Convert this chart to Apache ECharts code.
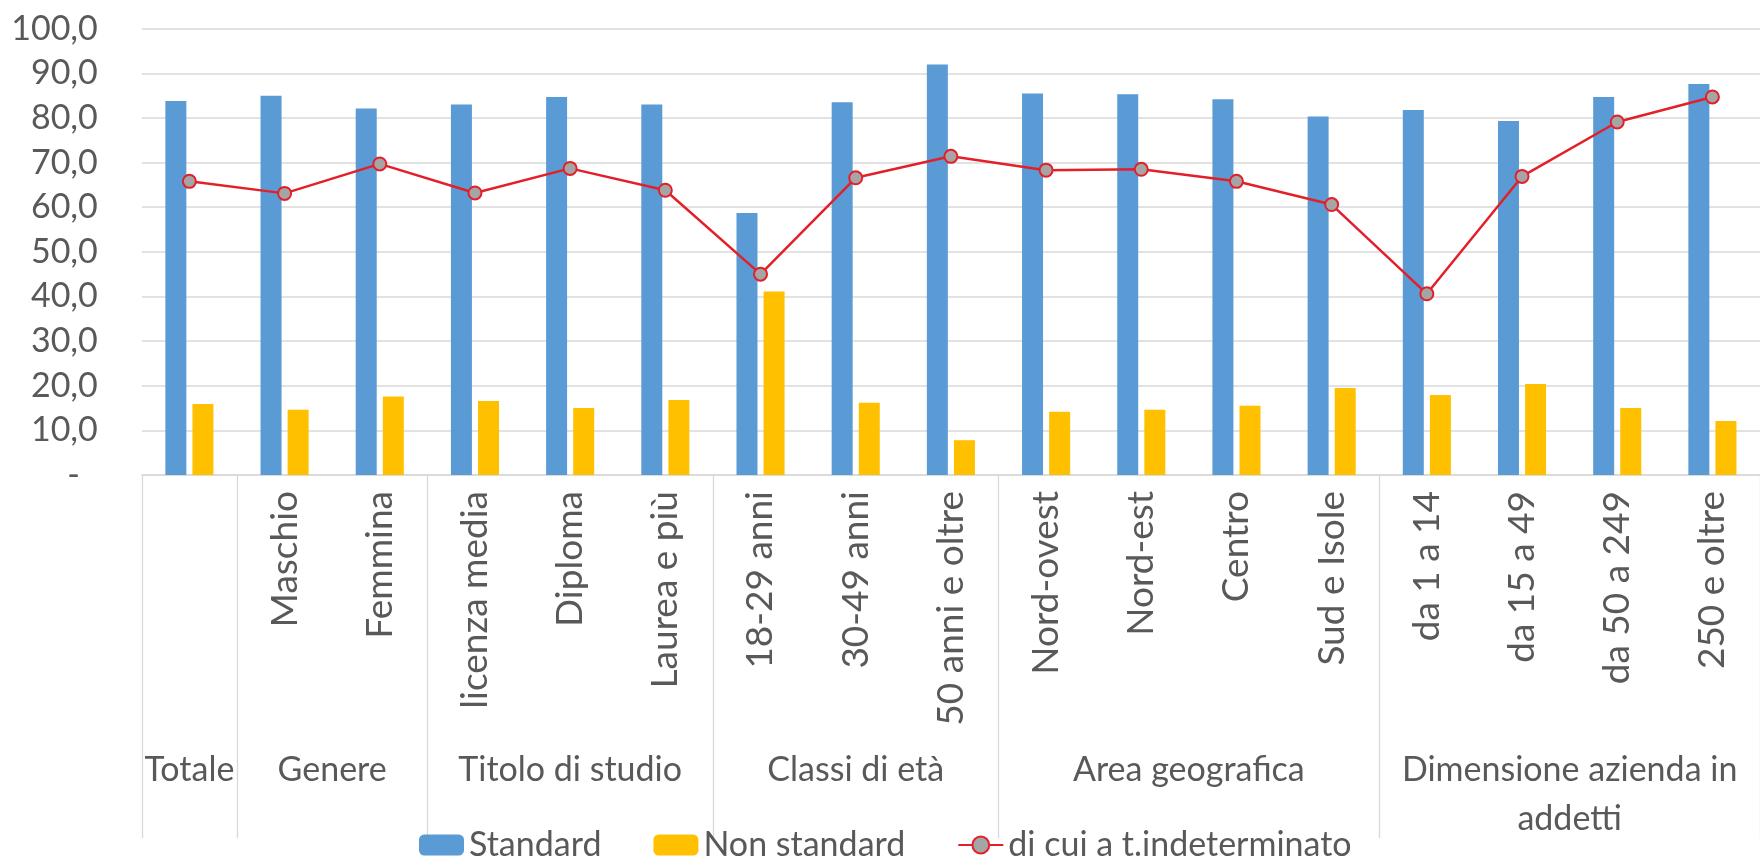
<!DOCTYPE html>
<html>
<head>
<meta charset="utf-8">
<script src="https://cdn.jsdelivr.net/npm/echarts@6/dist/echarts.min.js"></script>
<style>
html,body{margin:0;padding:0;background:#fff;}
#chart{width:1760px;height:857px;}
</style>
</head>
<body>
<div id="chart"></div>
<script>
// ---- data ----
const categories = ['', 'Maschio', 'Femmina', 'licenza media', 'Diploma', 'Laurea e più',
  '18-29 anni', '30-49 anni', '50 anni e oltre', 'Nord-ovest', 'Nord-est', 'Centro', 'Sud e Isole',
  'da 1 a 14', 'da 15 a 49', 'da 50 a 249', '250 e oltre'];
const groupNames = ['Totale', 'Genere', 'Titolo di studio', 'Classi di età', 'Area geografica', 'Dimensione azienda in\naddetti'];
const groupSizes = [1, 2, 3, 3, 4, 4];
const standard = [83.8, 85.0, 82.1, 83.0, 84.7, 83.0, 58.7, 83.5, 92.0, 85.5, 85.3, 84.2, 80.3, 81.8, 79.3, 84.7, 87.6];
const nonStandard = [15.9, 14.6, 17.6, 16.6, 15.0, 16.8, 41.1, 16.2, 7.8, 14.2, 14.6, 15.5, 19.5, 17.9, 20.4, 15.0, 12.1];
const indeterminato = [65.8, 63.1, 69.7, 63.2, 68.7, 63.8, 45.0, 66.6, 71.4, 68.3, 68.5, 65.8, 60.6, 40.6, 66.9, 79.1, 84.7];
const seriesNames = ['Standard', 'Non standard', 'di cui a t.indeterminato'];

// ---- group axis helper (half-category slots) ----
const nSlots = categories.length * 2 + 1;
const slotData = [];
for (let i = 0; i < nSlots; i++) slotData.push(String(i));
const boundarySlots = {};
const labelSlots = {};
let acc = 0;
boundarySlots[0] = true;
groupSizes.forEach((s, gi) => {
  labelSlots[acc * 2 + s] = groupNames[gi];
  acc += s;
  boundarySlots[acc * 2] = true;
});

const FONT = 'Lato';
const TXT = '#595959';
const GRID = '#d9d9d9';

const chart = echarts.init(document.getElementById('chart'));
chart.setOption({
  animation: false,
  backgroundColor: '#ffffff',
  textStyle: { fontFamily: FONT },
  grid: { left: 141.8, top: 28.7, width: 1628.6, height: 446.3, containLabel: false },
  legend: {
    data: seriesNames,
    left: 414,
    top: 823,
    itemWidth: 45,
    itemHeight: 21,
    itemGap: 52,
    textStyle: { fontFamily: FONT, fontSize: 34, color: TXT }
  },
  xAxis: [
    {
      type: 'category',
      data: categories,
      position: 'bottom',
      axisLine: { show: true, lineStyle: { color: GRID, width: 1.5 } },
      axisTick: { show: false },
      axisLabel: {
        interval: 0,
        rotate: 90,
        margin: 16,
        fontFamily: FONT,
        fontSize: 37,
        color: TXT
      },
      splitLine: { show: false }
    },
    {
      type: 'category',
      data: slotData,
      position: 'bottom',
      boundaryGap: false,
      axisLine: { show: false },
      axisTick: {
        show: true,
        interval: function (i) { return !!boundarySlots[i]; },
        length: 363,
        lineStyle: { color: GRID, width: 1.3 }
      },
      axisLabel: {
        interval: function (i) { return labelSlots[i] !== undefined; },
        formatter: function (v, i) { return labelSlots[i] || ''; },
        margin: 271,
        fontFamily: FONT,
        fontSize: 34,
        lineHeight: 49,
        color: TXT,
        align: 'center'
      },
      splitLine: { show: false }
    }
  ],
  yAxis: {
    type: 'value',
    min: 0,
    max: 100,
    interval: 10,
    axisLine: { show: false },
    axisTick: { show: false },
    splitLine: { lineStyle: { color: GRID, width: 1.5 } },
    axisLabel: {
      margin: 44,
      fontFamily: FONT,
      fontSize: 34,
      color: TXT,
      formatter: function (v) {
        if (v === 0) return '{d|-}';
        return v.toFixed(1).replace('.', ',');
      },
      rich: { d: { fontFamily: FONT, fontSize: 34, color: TXT, padding: [0, 18, 0, 0] } }
    }
  },
  series: [
    {
      name: seriesNames[0],
      type: 'bar',
      data: standard,
      barWidth: 21,
      barGap: '29%',
      itemStyle: { color: '#5B9BD5' }
    },
    {
      name: seriesNames[1],
      type: 'bar',
      data: nonStandard,
      barWidth: 21,
      barGap: '29%',
      itemStyle: { color: '#FFC000' }
    },
    {
      name: seriesNames[2],
      type: 'line',
      data: indeterminato,
      symbol: 'circle',
      symbolSize: 13,
      lineStyle: { color: '#E3202A', width: 2.5 },
      itemStyle: { color: '#A5A5A5', borderColor: '#E3202A', borderWidth: 2 },
      z: 5
    }
  ]
});
</script>
</body>
</html>
